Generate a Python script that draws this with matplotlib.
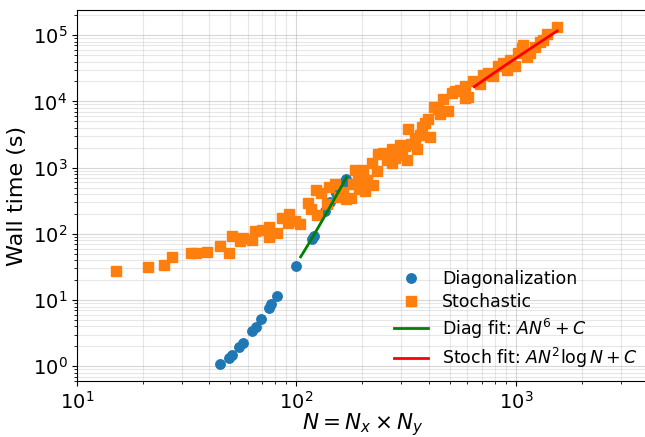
import numpy as np
import matplotlib
matplotlib.use("Agg")
import matplotlib.pyplot as plt

# Diagonalization data
diag_N = [45, 49.3, 50.7, 54.9, 56.9, 62.9, 65.2, 68.9, 74.7, 76.5, 81.2, 99.2,
          117.7, 120.5, 134.9, 142, 151.4, 165, 169]
diag_t = [1.07, 1.35, 1.49, 1.98, 2.25, 3.43, 3.98, 5.23, 7.63, 8.87, 11.7, 32.6,
          84, 94.4, 219, 298, 416, 613, 679]

# Stochastic data
stoch_N = [15.0, 21.0, 25.0, 27.0, 33.1, 34.8, 39.0, 44.8, 49.1, 51.0, 55.3, 56.9,
           62.9, 64.7, 69.4, 74.7, 75.2, 81.2, 85.6, 92.7, 91.8, 98.4, 103.7, 112.8,
           117.0, 123.6, 123.1, 129.7, 138.1, 140.6, 150.6, 156.7, 162.8, 168.1, 177.1,
           180.9, 185.7, 193.6, 190.6, 201.5, 205.2, 208.9, 220.8, 223.9, 232.0, 235.9,
           248.6, 257.6, 271.5, 272.3, 281.0, 296.1, 301.5, 312.1, 317.8, 323.1, 332.4,
           346.7, 352.9, 365.3, 372.0, 385.0, 398.6, 405.8, 425.4, 442.6, 450.6, 466.5,
           491.6, 509.5, 527.5, 555.9, 585.9, 585.9, 604.5, 639.2, 685.5, 709.6, 747.8,
           788.1, 830.6, 875.2, 907.1, 939.2, 989.5, 1024.5, 1061.7, 1079.7, 1118.7,
           1158.3, 1221, 1286.6, 1332, 1380, 1532]
stoch_t = [27.8, 31.8, 33.8, 44.4, 52.0, 50.9, 52.7, 65.4, 52.0, 92.1, 76.8, 85.1,
           81.2, 112, 115.9, 125.4, 89.0, 102, 170.7, 202.5, 146.3, 157.8, 140.4, 288.3,
           240.4, 195.7, 465.8, 408.9, 278.6, 516.3, 575.9, 362.6, 430.5, 333.0, 350.5,
           566.2, 930.5, 477.1, 656.1, 914.8, 445.5, 656.1, 1175, 547.1, 884, 1610,
           1638, 1289, 1944, 1163, 1380, 2177, 1529, 2154, 1302, 3858, 2268,
           2835, 1944, 3066, 4089, 4738, 5435, 2903, 8114, 7654, 6449, 10782,
           7221, 13563, 14333, 14935, 11428, 17012, 11547, 20194, 18030, 25394, 26925,
           23957, 33761, 37918, 30150, 42462, 33761, 53420, 63410, 71000, 47540,
           53420, 66980, 79490, 84250, 106000, 132900]

# Fit parameters
diag_A, diag_C = 3.03e-11, 5.5
diag_fit_range = [104.5, 169]
stoch_A, stoch_C = 6.71e-3, -1447
stoch_fit_range = [646, 1543]

fig = plt.figure(figsize=(6.45, 4.37), dpi=100)
ax = fig.add_axes([77/645, 56/437, (648-77)/645, (381-10)/437])

ax.plot(diag_N, diag_t, 'o', color='#1f77b4', markersize=6.8, label='Diagonalization')
ax.plot(stoch_N, stoch_t, 's', color='#ff7f0e', markersize=7, label='Stochastic')

Nd = np.linspace(diag_fit_range[0], diag_fit_range[1], 100)
ax.plot(Nd, diag_A * Nd**6 + diag_C, color='green', lw=2, label=r'Diag fit: $AN^6 + C$')
Ns = np.linspace(stoch_fit_range[0], stoch_fit_range[1], 100)
ax.plot(Ns, stoch_A * Ns**2 * np.log(Ns) + stoch_C, color='red', lw=2,
        label=r'Stoch fit: $AN^2 \log N + C$')

ax.set_xscale('log')
ax.set_yscale('log')
ax.set_xlim(10, 4000)
ax.set_ylim(0.6, 2.4e5)
ax.grid(True, which='major', color='#b0b0b0', alpha=0.5, lw=0.8)
ax.grid(True, which='minor', color='#b0b0b0', alpha=0.3, lw=0.8)
ax.tick_params(labelsize=14)
ax.set_xlabel(r'$N = N_x \times N_y$', fontsize=15.5, labelpad=-1)
ax.set_ylabel('Wall time (s)', fontsize=16)
ax.legend(loc='lower right', frameon=False, fontsize=12.5, labelspacing=0.3,
          bbox_to_anchor=(1.01, -0.012))

fig.savefig('out.png', dpi=100)
